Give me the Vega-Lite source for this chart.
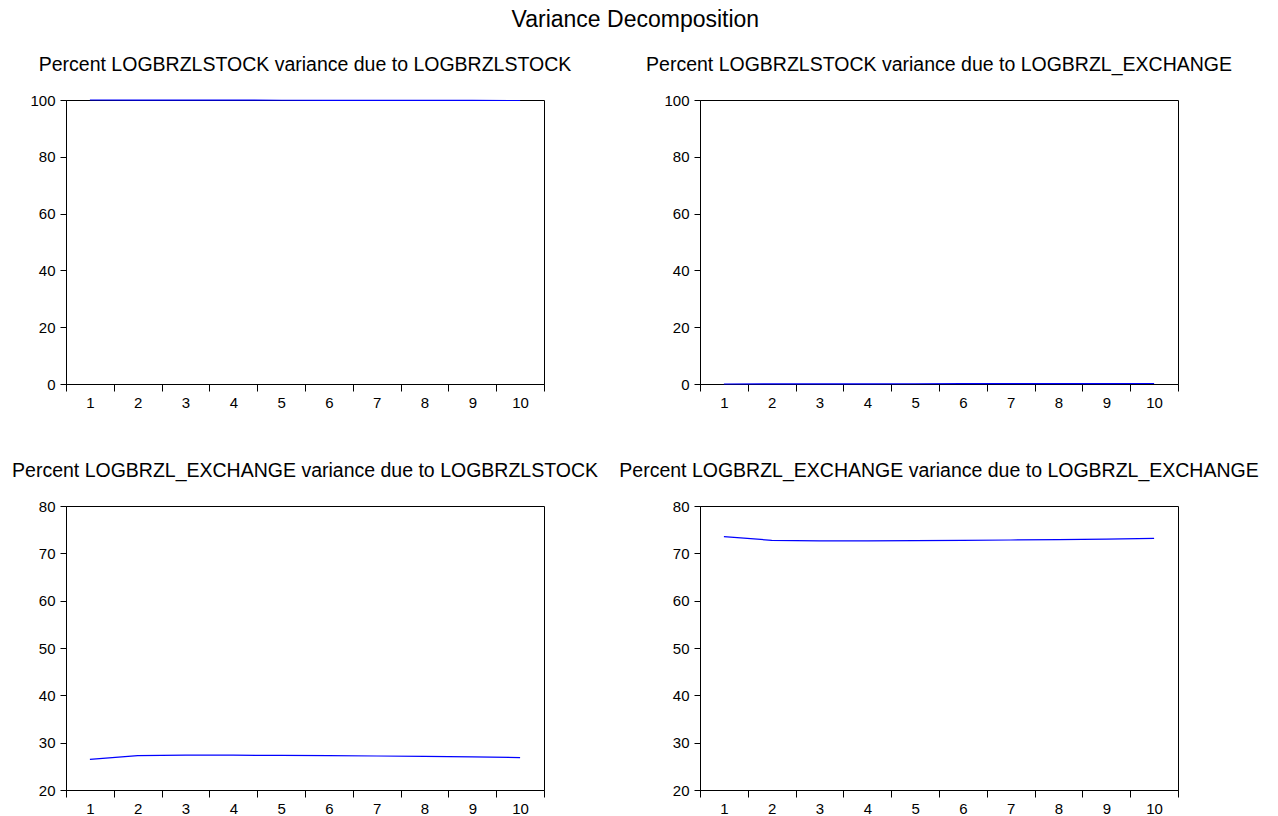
{
  "$schema": "https://vega.github.io/schema/vega-lite/v6.json",
  "padding": {"left": 11, "top": 9, "right": 5, "bottom": 5},
  "background": "white",
  "title": {"text": "Variance Decomposition", "font": "Liberation Sans", "fontSize": 23, "fontWeight": "normal", "color": "black", "anchor": "middle", "frame": "bounds", "offset": 22},
  "data": {"values": [
    {"panel": "a", "period": 1, "value": 100.0},
    {"panel": "a", "period": 2, "value": 99.98},
    {"panel": "a", "period": 3, "value": 99.96},
    {"panel": "a", "period": 4, "value": 99.94},
    {"panel": "a", "period": 5, "value": 99.92},
    {"panel": "a", "period": 6, "value": 99.9},
    {"panel": "a", "period": 7, "value": 99.88},
    {"panel": "a", "period": 8, "value": 99.86},
    {"panel": "a", "period": 9, "value": 99.84},
    {"panel": "a", "period": 10, "value": 99.82},
    {"panel": "b", "period": 1, "value": 0.0},
    {"panel": "b", "period": 2, "value": 0.02},
    {"panel": "b", "period": 3, "value": 0.04},
    {"panel": "b", "period": 4, "value": 0.06},
    {"panel": "b", "period": 5, "value": 0.08},
    {"panel": "b", "period": 6, "value": 0.1},
    {"panel": "b", "period": 7, "value": 0.12},
    {"panel": "b", "period": 8, "value": 0.14},
    {"panel": "b", "period": 9, "value": 0.16},
    {"panel": "b", "period": 10, "value": 0.18},
    {"panel": "c", "period": 1, "value": 26.45},
    {"panel": "c", "period": 2, "value": 27.25},
    {"panel": "c", "period": 3, "value": 27.35},
    {"panel": "c", "period": 4, "value": 27.35},
    {"panel": "c", "period": 5, "value": 27.3},
    {"panel": "c", "period": 6, "value": 27.25},
    {"panel": "c", "period": 7, "value": 27.18},
    {"panel": "c", "period": 8, "value": 27.1},
    {"panel": "c", "period": 9, "value": 27.0},
    {"panel": "c", "period": 10, "value": 26.85},
    {"panel": "d", "period": 1, "value": 73.55},
    {"panel": "d", "period": 2, "value": 72.75},
    {"panel": "d", "period": 3, "value": 72.65},
    {"panel": "d", "period": 4, "value": 72.65},
    {"panel": "d", "period": 5, "value": 72.7},
    {"panel": "d", "period": 6, "value": 72.75},
    {"panel": "d", "period": 7, "value": 72.82},
    {"panel": "d", "period": 8, "value": 72.9},
    {"panel": "d", "period": 9, "value": 73.0},
    {"panel": "d", "period": 10, "value": 73.15}
  ]},
  "bounds": "flush",
  "columns": 2,
  "spacing": {"row": 122, "column": 156},
  "config": {
    "view": {"stroke": "black", "strokeWidth": 1},
    "axis": {"domainColor": "black", "tickColor": "black", "labelColor": "black", "labelFont": "Liberation Sans", "labelFontSize": 15, "grid": false, "title": null},
    "axisX": {"tickSize": 7, "labelPadding": 4, "labelAngle": 0, "tickBand": "extent"},
    "axisY": {"tickSize": 6, "labelPadding": 5},
    "title": {"font": "Liberation Sans", "fontSize": 19.5, "fontWeight": "normal", "color": "black", "anchor": "middle", "frame": "group", "offset": 18},
    "line": {"color": "#0000ff", "strokeWidth": 1.2}
  },
  "concat": [
    {
      "title": "Percent LOGBRZLSTOCK variance due to LOGBRZLSTOCK",
      "width": 478, "height": 284,
      "transform": [{"filter": "datum.panel === 'a'"}],
      "mark": "line",
      "encoding": {
        "x": {"field": "period", "type": "ordinal", "scale": {"type": "band", "paddingInner": 0, "paddingOuter": 0}},
        "y": {"field": "value", "type": "quantitative", "scale": {"domain": [0, 100], "nice": false, "zero": false}, "axis": {"values": [0, 20, 40, 60, 80, 100]}}
      }
    },
    {
      "title": "Percent LOGBRZLSTOCK variance due to LOGBRZL_EXCHANGE",
      "width": 478, "height": 284,
      "transform": [{"filter": "datum.panel === 'b'"}],
      "mark": "line",
      "encoding": {
        "x": {"field": "period", "type": "ordinal", "scale": {"type": "band", "paddingInner": 0, "paddingOuter": 0}},
        "y": {"field": "value", "type": "quantitative", "scale": {"domain": [0, 100], "nice": false, "zero": false}, "axis": {"values": [0, 20, 40, 60, 80, 100]}}
      }
    },
    {
      "title": "Percent LOGBRZL_EXCHANGE variance due to LOGBRZLSTOCK",
      "width": 478, "height": 284,
      "transform": [{"filter": "datum.panel === 'c'"}],
      "mark": "line",
      "encoding": {
        "x": {"field": "period", "type": "ordinal", "scale": {"type": "band", "paddingInner": 0, "paddingOuter": 0}},
        "y": {"field": "value", "type": "quantitative", "scale": {"domain": [20, 80], "nice": false, "zero": false}, "axis": {"values": [20, 30, 40, 50, 60, 70, 80]}}
      }
    },
    {
      "title": "Percent LOGBRZL_EXCHANGE variance due to LOGBRZL_EXCHANGE",
      "width": 478, "height": 284,
      "transform": [{"filter": "datum.panel === 'd'"}],
      "mark": "line",
      "encoding": {
        "x": {"field": "period", "type": "ordinal", "scale": {"type": "band", "paddingInner": 0, "paddingOuter": 0}},
        "y": {"field": "value", "type": "quantitative", "scale": {"domain": [20, 80], "nice": false, "zero": false}, "axis": {"values": [20, 30, 40, 50, 60, 70, 80]}}
      }
    }
  ]
}
